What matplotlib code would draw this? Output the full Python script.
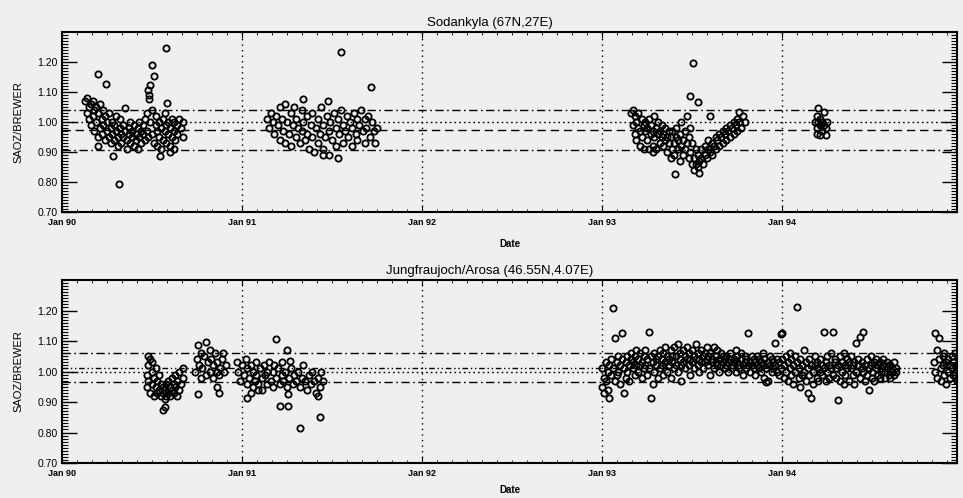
import matplotlib
matplotlib.use("Agg")
import matplotlib.pyplot as plt
from matplotlib.ticker import MultipleLocator
import numpy as np

plt.rcParams['font.family'] = ['Liberation Sans', 'DejaVu Sans']

# ---------------- data (x = years since Jan 1990, y = SAOZ/BREWER) ----------------
tick_pos = [0, 1, 2, 3, 4]
tick_labels = ["Jan 90", "Jan 91", "Jan 92", "Jan 93", "Jan 94"]
y_ticks = [0.70, 0.80, 0.90, 1.00, 1.10, 1.20]

# Sodankyla
sod_1990 = [(0.13,1.07),(0.14,1.08),(0.14,1.03),(0.15,1.01),(0.15,1.05),(0.16,1.06),(0.16,0.99),(0.17,1.02),
            (0.17,1.07),(0.18,1.04),(0.18,0.97),(0.19,1.00),(0.19,1.05),(0.20,1.03),(0.20,0.95),(0.21,0.98),
            (0.21,1.06),(0.22,1.01),(0.22,0.96),(0.23,1.04),(0.23,0.99),(0.24,0.94),(0.24,1.02),(0.25,0.97),
            (0.25,1.00),(0.26,0.95),(0.26,1.03),(0.27,0.98),(0.27,0.93),(0.28,1.00),(0.28,0.96),(0.29,0.94),
            (0.29,0.99),(0.30,0.97),(0.30,1.02),(0.31,0.92),(0.31,0.95),(0.32,0.98),(0.32,1.01),(0.33,0.96),
            (0.33,0.93),(0.34,0.99),(0.34,0.95),(0.35,1.046),(0.35,0.97),(0.36,0.94),(0.36,0.91),(0.37,0.98),
            (0.37,0.96),(0.38,1.00),(0.38,0.93),(0.39,0.95),(0.39,0.97),(0.40,0.92),(0.40,0.99),(0.41,0.96),
            (0.41,0.94),(0.42,0.98),(0.42,0.91),(0.43,0.95),(0.43,1.00),(0.44,0.97),(0.44,0.93),(0.45,0.96),
            (0.45,0.99),(0.46,0.94),(0.46,1.01),(0.47,0.97),(0.47,1.03),(0.48,0.95),(0.49,1.00),(0.50,1.04),
            (0.50,0.96),(0.51,0.93),(0.52,0.99),(0.52,1.02),(0.53,0.97),(0.53,0.92),(0.54,0.95),(0.54,1.00),
            (0.55,0.91),(0.55,0.98),(0.56,1.01),(0.56,0.94),(0.57,0.97),(0.57,1.03),(0.58,0.99),(0.58,0.93),
            (0.59,0.96),(0.59,1.00),(0.60,0.98),(0.60,0.92),(0.61,1.01),(0.61,0.95),(0.62,0.97),(0.62,1.00),
            (0.63,0.94),(0.64,0.99),(0.64,0.96),(0.65,1.01),(0.66,0.98),(0.67,1.00),(0.67,0.95),
            (0.198,1.159),(0.244,1.128),(0.318,0.794),(0.578,1.246),(0.498,1.19),(0.513,1.154),(0.489,1.123),
            (0.48,1.107),(0.485,1.09),(0.482,1.076),(0.581,1.064),(0.198,0.92),(0.285,0.888),(0.544,0.888),
            (0.60,0.90),(0.62,0.91)]
sod_1991 = [(1.14,1.01),(1.15,0.98),(1.16,1.03),(1.17,1.00),(1.18,0.96),(1.19,1.02),(1.20,0.99),(1.21,1.05),
            (1.21,0.94),(1.22,1.01),(1.23,0.97),(1.24,1.06),(1.24,0.93),(1.25,1.00),(1.26,0.96),(1.27,1.03),
            (1.27,0.92),(1.28,0.99),(1.29,1.05),(1.30,0.95),(1.30,1.01),(1.31,0.98),(1.32,0.93),(1.33,1.04),
            (1.33,0.97),(1.34,1.00),(1.35,0.94),(1.36,1.02),(1.36,0.96),(1.37,0.91),(1.38,0.99),(1.39,1.03),
            (1.39,0.95),(1.40,0.90),(1.41,0.98),(1.42,1.01),(1.42,0.93),(1.43,0.96),(1.44,1.05),(1.45,0.99),
            (1.45,0.91),(1.46,0.95),(1.47,1.02),(1.48,0.97),(1.48,0.89),(1.49,1.00),(1.50,0.94),(1.51,1.03),
            (1.52,0.98),(1.52,0.92),(1.53,1.01),(1.54,0.96),(1.55,1.04),(1.56,0.99),(1.56,0.93),(1.57,0.97),
            (1.58,1.02),(1.59,0.95),(1.60,1.00),(1.61,0.92),(1.61,0.98),(1.62,1.03),(1.63,0.96),(1.64,1.01),
            (1.64,0.94),(1.65,0.99),(1.66,1.04),(1.67,0.97),(1.68,0.93),(1.68,1.01),(1.69,0.98),(1.70,1.02),
            (1.71,0.95),(1.72,1.00),(1.73,0.97),(1.74,0.93),(1.75,0.98),
            (1.55,1.234),(1.715,1.116),(1.34,1.077),(1.476,1.07),(1.45,0.89),(1.53,0.88)]
sod_1993 = [(3.16,1.03),(3.17,1.04),(3.17,0.99),(3.18,1.02),(3.18,0.96),(3.19,1.00),(3.19,0.94),(3.20,0.98),
            (3.20,1.03),(3.21,0.92),(3.21,0.97),(3.22,1.01),(3.22,0.95),(3.23,0.99),(3.23,0.91),(3.24,0.97),
            (3.24,1.00),(3.25,0.94),(3.25,0.98),(3.26,0.91),(3.26,1.01),(3.27,0.96),(3.27,0.99),(3.28,0.92),
            (3.28,0.97),(3.29,1.02),(3.29,0.95),(3.30,0.98),(3.30,0.91),(3.31,0.96),(3.31,1.00),(3.32,0.93),
            (3.32,0.97),(3.33,0.95),(3.33,0.99),(3.34,0.92),(3.34,0.96),(3.35,0.94),(3.35,0.98),(3.36,0.90),
            (3.36,0.95),(3.37,0.97),(3.37,0.93),(3.38,0.88),(3.38,0.95),(3.39,0.91),(3.39,0.97),(3.40,0.93),
            (3.40,0.89),(3.41,0.95),(3.41,0.98),(3.42,0.91),(3.42,0.94),(3.43,0.87),(3.43,0.96),(3.44,0.92),
            (3.44,1.00),(3.45,0.94),(3.45,0.89),(3.46,0.97),(3.46,0.91),(3.47,0.93),(3.47,1.02),(3.48,0.88),
            (3.48,0.95),(3.49,0.90),(3.49,0.98),(3.50,0.86),(3.50,0.93),(3.51,0.88),(3.51,0.84),(3.52,0.91),
            (3.52,0.86),(3.53,0.85),(3.53,0.89),(3.54,0.87),(3.54,0.83),(3.55,0.88),(3.55,0.91),(3.56,0.86),
            (3.57,0.89),(3.57,0.92),(3.58,0.88),(3.59,0.91),(3.59,0.94),(3.60,0.90),(3.61,0.93),(3.61,0.89),
            (3.62,0.92),(3.63,0.95),(3.63,0.91),(3.64,0.94),(3.65,0.92),(3.65,0.96),(3.66,0.95),(3.67,0.93),
            (3.67,0.97),(3.68,0.96),(3.69,0.94),(3.69,0.98),(3.70,0.97),(3.71,0.95),(3.71,0.99),(3.72,0.98),
            (3.73,0.96),(3.73,1.00),(3.74,0.99),(3.75,0.97),(3.75,1.01),(3.76,1.00),(3.77,0.98),(3.78,1.02),
            (3.79,1.00),
            (3.506,1.198),(3.485,1.087),(3.53,1.068),(3.406,0.827),(3.757,1.034),(3.60,1.02),(3.28,0.90)]
sod_1994 = [(4.18,1.00),(4.19,1.02),(4.19,0.98),(4.20,1.046),(4.20,1.00),(4.21,0.99),(4.21,1.01),(4.22,0.97),
            (4.22,1.00),(4.23,1.034),(4.23,0.99),(4.24,0.98),(4.21,0.957),(4.24,0.955),(4.19,0.96),(4.25,1.00)]
sod_levels = [1.04, 1.00, 0.973, 0.905]

# Jungfraujoch / Arosa
jun_1990a = [(0.47,0.99),(0.47,0.95),(0.48,1.02),(0.48,0.97),(0.49,1.04),(0.49,0.93),(0.50,1.00),(0.50,0.96),
             (0.51,0.98),(0.51,0.92),(0.52,1.01),(0.52,0.95),(0.53,0.97),(0.53,0.93),(0.54,0.94),(0.54,0.99),
             (0.55,0.92),(0.55,0.96),(0.56,0.93),(0.56,0.95),(0.57,0.91),(0.57,0.94),(0.58,0.92),(0.58,0.96),
             (0.59,0.93),(0.59,0.97),(0.60,0.95),(0.60,0.92),(0.61,0.98),(0.61,0.94),(0.62,0.96),(0.62,0.93),
             (0.63,0.99),(0.63,0.95),(0.64,0.97),(0.64,0.92),(0.65,0.94),(0.65,1.00),(0.66,0.96),(0.67,0.98),
             (0.67,1.01),(0.563,0.874),(0.57,0.885),(0.48,1.05),(0.50,1.03)]
jun_1990b = [(0.74,1.00),(0.75,1.04),(0.756,1.087),(0.76,1.02),(0.77,0.98),(0.77,1.06),(0.78,1.01),(0.79,1.05),
             (0.80,1.098),(0.80,0.99),(0.81,1.03),(0.82,1.07),(0.82,1.00),(0.83,1.04),(0.84,0.98),(0.84,1.02),
             (0.85,1.06),(0.86,1.00),(0.86,1.03),(0.87,0.99),(0.88,1.01),(0.89,1.04),(0.895,1.06),(0.90,1.00),
             (0.91,1.02),(0.756,0.926),(0.87,0.93),(0.86,0.95)]
jun_1991 = [(0.97,1.03),(0.98,1.00),(0.99,0.97),(1.00,1.02),(1.01,0.99),(1.02,1.04),(1.03,0.96),(1.03,1.01),
            (1.04,0.98),(1.05,1.02),(1.06,0.95),(1.06,1.00),(1.07,0.97),(1.08,1.03),(1.08,0.99),(1.09,0.96),
            (1.10,1.01),(1.11,0.98),(1.11,0.94),(1.12,1.02),(1.13,0.99),(1.14,0.96),(1.14,1.00),(1.15,1.03),
            (1.16,0.97),(1.17,1.00),(1.17,0.95),(1.18,1.02),(1.19,0.98),(1.20,1.01),(1.21,0.96),(1.22,0.99),
            (1.22,1.03),(1.23,0.97),(1.24,1.00),(1.25,0.95),(1.26,0.98),(1.27,1.01),(1.28,0.96),(1.29,0.99),
            (1.30,0.97),(1.31,1.00),(1.32,0.95),(1.33,0.98),(1.34,1.02),(1.35,0.97),(1.36,0.94),(1.37,0.99),
            (1.38,0.96),(1.39,1.00),(1.40,0.97),(1.41,0.93),(1.42,0.98),(1.43,0.95),(1.44,1.00),(1.45,0.97),
            (1.42,0.92),(1.19,1.106),(1.248,1.07),(1.267,1.034),(1.257,0.926),(1.21,0.887),(1.257,0.887),
            (1.322,0.816),(1.433,0.852),(1.026,0.913),(1.05,0.93),(1.09,0.94)]
jun_9394_x = [3.00,3.01,3.02,3.03,3.04,3.05,3.06,3.07,3.08,3.09,3.10,3.11,3.12,3.13,3.14,3.15,3.16,3.17,3.18,3.19,
              3.20,3.21,3.22,3.23,3.24,3.25,3.26,3.27,3.28,3.29,3.30,3.31,3.32,3.33,3.34,3.35,3.36,3.37,3.38,3.39,
              3.40,3.41,3.42,3.43,3.44,3.45,3.46,3.47,3.48,3.49,3.50,3.51,3.52,3.53,3.54,3.55,3.56,3.57,3.58,3.59,
              3.60,3.61,3.62,3.63,3.64,3.65,3.66,3.67,3.68,3.69,3.70,3.71,3.72,3.73,3.74,3.75,3.76,3.77,3.78,3.79,
              3.80,3.81,3.82,3.83,3.84,3.85,3.86,3.87,3.88,3.89,3.90,3.91,3.92,3.93,3.94,3.95,3.96,3.97,3.98,3.99,
              4.00,4.01,4.02,4.03,4.04,4.05,4.06,4.07,4.08,4.09,4.10,4.11,4.12,4.13,4.14,4.15,4.16,4.17,4.18,4.19,
              4.20,4.21,4.22,4.23,4.24,4.25,4.26,4.27,4.28,4.29,4.30,4.31,4.32,4.33,4.34,4.35,4.36,4.37,4.38,4.39,
              4.40,4.41,4.42,4.43,4.44,4.45,4.46,4.47,4.48,4.49,4.50,4.51,4.52,4.53,4.54,4.55,4.56,4.57,4.58,4.59,
              4.60,4.61,4.62,4.63]
jun_9394_a = [0.95,0.93,1.03,1.00,1.02,0.99,1.207,1.109,1.03,1.05,1.02,1.127,0.928,1.03,1.05,1.02,1.04,1.01,1.05,1.02,
              1.04,1.06,1.03,1.05,1.02,1.04,1.13,0.912,1.03,1.06,1.02,1.05,1.01,1.04,1.06,1.03,1.00,1.04,1.07,1.03,
              1.01,1.05,1.09,1.04,1.02,1.07,1.05,1.08,1.02,1.04,1.07,1.05,1.09,1.02,1.04,1.07,1.01,1.06,1.04,1.02,
              1.06,1.03,1.08,1.05,1.02,1.04,1.06,1.03,1.01,1.05,1.03,1.06,1.02,1.04,1.07,1.03,1.01,1.04,1.02,1.05,
              1.01,1.125,1.03,1.05,1.01,1.03,1.02,1.04,1.00,1.02,1.04,0.967,0.97,1.02,1.00,1.03,1.092,1.00,1.03,1.123,
              1.125,1.02,1.05,0.97,1.01,0.99,1.02,1.05,1.21,0.98,1.04,1.02,1.07,0.97,1.01,1.04,0.912,1.00,1.05,0.98,
              1.01,1.04,0.99,1.13,1.03,1.00,1.02,1.06,1.13,1.03,0.98,0.907,1.05,1.00,0.96,1.02,1.04,0.97,1.01,0.99,
              1.03,1.092,1.02,1.114,1.01,1.13,0.97,1.04,0.94,1.02,0.98,1.03,1.01,0.99,1.03,1.00,1.02,0.98,1.01,0.99,
              1.02,1.00,1.03,1.01]
jun_9394_b = [1.01,0.98,0.97,0.94,0.912,1.04,1.01,0.97,0.99,1.00,0.96,1.04,1.01,0.98,1.00,0.97,1.06,1.03,0.99,1.07,
              1.00,1.02,0.98,1.01,1.07,0.99,1.01,1.05,0.96,1.00,1.04,0.98,1.07,1.02,0.99,1.08,1.05,1.02,0.98,1.05,
              1.08,1.02,1.00,1.06,0.97,1.03,1.01,1.04,1.06,0.99,1.03,1.01,1.04,1.06,1.00,1.03,1.05,1.03,1.08,1.05,
              0.99,1.04,1.01,1.03,1.07,1.00,1.02,1.05,1.04,1.02,1.00,1.04,1.01,1.03,1.00,1.05,1.02,1.06,0.99,1.03,
              1.04,1.02,1.00,1.02,1.04,0.99,1.05,1.01,1.03,1.06,0.98,1.01,1.03,1.05,1.04,1.01,1.02,1.04,0.99,1.01,
              1.04,0.98,1.00,1.03,1.06,1.04,0.96,1.00,1.03,1.01,0.95,0.99,1.00,1.03,0.93,0.99,1.02,0.96,1.02,1.03,
              0.97,1.00,1.02,1.01,0.97,1.05,0.98,1.01,0.99,1.04,1.01,1.02,0.97,1.03,1.06,0.99,1.01,1.03,1.05,1.02,
              0.96,1.00,1.04,0.98,1.03,1.00,1.02,0.99,1.01,1.05,1.00,0.97,1.04,1.02,0.98,1.01,1.04,1.00,1.03,1.02,
              0.98,1.01,0.99,1.00]
jun_1995 = [(4.84,1.03),(4.85,1.00),(4.85,1.126),(4.86,1.07),(4.86,0.98),(4.87,1.11),(4.87,1.04),(4.88,1.01),
            (4.88,0.97),(4.89,1.05),(4.89,1.02),(4.90,0.99),(4.90,1.06),(4.91,1.03),(4.91,0.96),(4.92,1.00),
            (4.92,1.04),(4.93,1.02),(4.93,0.98),(4.94,1.05),(4.94,1.01),(4.95,0.99),(4.95,1.03),(4.96,1.00),
            (4.96,1.06),(4.97,1.02),(4.97,0.97),(4.99,1.17)]
jun_levels = [1.062, 1.013, 1.00, 0.967]

# ---------------- drawing ----------------
BG = '#efefef'
fig = plt.figure(figsize=(9.63, 4.98), dpi=100, facecolor=BG)
ax1 = fig.add_axes([62/963, 1-212/498, 895/963, 180/498])
ax2 = fig.add_axes([62/963, 1-463/498, 895/963, 183/498])

dashdot = (0, (6, 2.5, 1.2, 2.5))
dotted = (0, (1.2, 2.2))
dashed = (0, (6, 3.5))
dashdotdot = (0, (4, 2, 1, 2, 1, 2))
sod_styles = [dashdot, dotted, dashed, dashdot]
jun_styles = [dashdot, dashdotdot, dotted, dashdot]

mk = dict(ls='none', marker='o', ms=4.5, mfc='none', mec='black', mew=1.3)

def style(ax, title, levels, styles, xpad):
    ax.set_facecolor(BG)
    ax.set_xlim(0, 4.97)
    ax.set_ylim(0.70, 1.30)
    for v in tick_pos[1:]:
        ax.axvline(v, color='black', lw=1.0, ls=(0, (1, 3)), zorder=1)
    for lv, st in zip(levels, styles):
        ax.axhline(lv, color='black', lw=1.0, ls=st, zorder=1)
    ax.set_xticks(tick_pos)
    ax.set_xticklabels(tick_labels, fontsize=6.5, fontweight='bold')
    ax.xaxis.set_minor_locator(MultipleLocator(1/12))
    ax.set_yticks(y_ticks)
    ax.set_yticklabels([f"{v:.2f}" for v in y_ticks], fontsize=7.5)
    ax.yaxis.set_minor_locator(MultipleLocator(0.01))
    ax.tick_params(axis='y', which='major', direction='in', length=11, width=1.0,
                   left=True, right=True, pad=3)
    ax.tick_params(axis='y', which='minor', direction='in', length=4.5, width=0.8,
                   left=True, right=True)
    ax.tick_params(axis='x', which='major', direction='in', length=4, width=0.8,
                   top=True, bottom=True, pad=4)
    ax.tick_params(axis='x', which='minor', direction='in', length=2, width=0.6,
                   top=True, bottom=True)
    for s in ax.spines.values():
        s.set_linewidth(1.5)
    ax.set_title(title, fontsize=9.5, x=0.478, pad=4)
    ax.set_xlabel("Date", fontsize=7, fontweight='bold', labelpad=xpad)
    ax.set_ylabel("SAOZ/BREWER", fontsize=8, labelpad=10)

style(ax1, "Sodankyla (67N,27E)", sod_levels, sod_styles, 9)
style(ax2, "Jungfraujoch/Arosa (46.55N,4.07E)", jun_levels, jun_styles, 5)

for grp in (sod_1990, sod_1991, sod_1993, sod_1994):
    xs, ys = zip(*grp)
    ax1.plot(xs, ys, **mk, zorder=3)

for grp in (jun_1990a, jun_1990b, jun_1991, jun_1995):
    xs, ys = zip(*grp)
    ax2.plot(xs, ys, **mk, zorder=3)
ax2.plot(jun_9394_x, jun_9394_a, **mk, zorder=3)
ax2.plot(jun_9394_x, jun_9394_b, **mk, zorder=3)

fig.savefig("out.png", dpi=100, facecolor=BG)
